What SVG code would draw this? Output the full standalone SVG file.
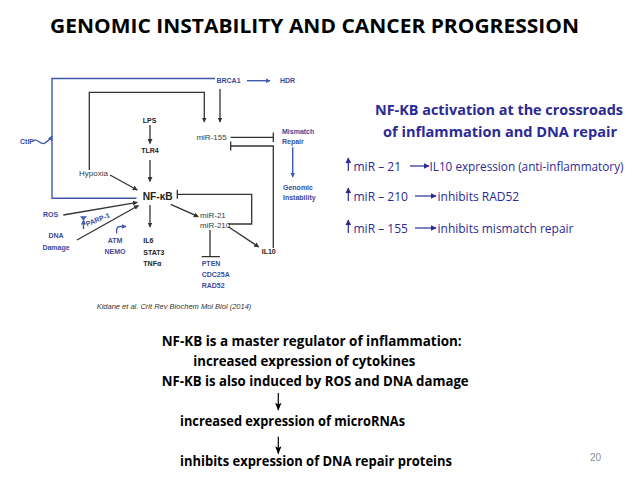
<svg xmlns="http://www.w3.org/2000/svg" width="638" height="479" viewBox="0 0 638 479">
<style>
text{font-family:"Liberation Sans",Arial,sans-serif}
.title{font-family:"Open Sans","Liberation Sans",sans-serif;font-weight:bold;font-size:19px;fill:#000}
.bl{font-weight:bold;font-size:7px;fill:#3a4c9c}
.bk{font-weight:bold;font-size:7px;fill:#222}
.gr{font-size:8px;fill:#3a3a3a}
.rt{font-family:"Open Sans","Liberation Sans",sans-serif;font-weight:bold;font-size:15px;fill:#2a2a96}
.rl{font-family:"Open Sans","Liberation Sans",sans-serif;font-size:12px;fill:#2a2a96}
.bt{font-family:"Open Sans","Liberation Sans",sans-serif;font-weight:bold;font-size:13.5px;fill:#000}
.ln{fill:none;stroke:#333;stroke-width:1.3}
.lb{fill:none;stroke:#3f5aac;stroke-width:1.4}
.ra{fill:none;stroke:#2a2a96;stroke-width:1.2}
</style>
<defs>
<marker id="ah" viewBox="0 0 10 10" refX="9" refY="5" markerWidth="5" markerHeight="5" orient="auto" markerUnits="userSpaceOnUse"><path d="M0,0 L10,5 L0,10 z" fill="#333"/></marker>
<marker id="ahb" viewBox="0 0 10 10" refX="9" refY="5" markerWidth="5" markerHeight="5" orient="auto" markerUnits="userSpaceOnUse"><path d="M0,0 L10,5 L0,10 z" fill="#3f5aac"/></marker>
<marker id="ahr" viewBox="0 0 10 10" refX="9" refY="5" markerWidth="6" markerHeight="6" orient="auto" markerUnits="userSpaceOnUse"><path d="M0,0 L10,5 L0,10 z" fill="#2a2a96"/></marker>
<marker id="ahk" viewBox="0 0 10 10" refX="9" refY="5" markerWidth="8" markerHeight="8" orient="auto" markerUnits="userSpaceOnUse"><path d="M0,1 L10,5 L0,9 L2,5 z" fill="#000"/></marker>
</defs>
<rect width="638" height="479" fill="#fff"/>
<text class="title" x="50" y="33" textLength="529" lengthAdjust="spacingAndGlyphs">GENOMIC INSTABILITY AND CANCER PROGRESSION</text>

<g id="connectors">
<path class="lb" d="M215,78.5 H52 V198.3 H136.5"/>
<path class="lb" d="M33,141 C38,137 40,146 45,143 C48,141 50,140 52,136" marker-end="url(#ahb)"/>
<path class="lb" d="M247,80.7 H270" marker-end="url(#ahb)"/>
<path class="ln" d="M89.3,170 V92.3 H204.3 V122" marker-end="url(#ah)"/>
<path class="ln" d="M220,89 V122" marker-end="url(#ah)"/>
<path class="ln" d="M230.7,137.3 H273.3 M273.3,132.5 V142"/>
<path class="lb" d="M292.7,147.3 V177" marker-end="url(#ahb)"/>
<path class="ln" d="M273.3,248 V146 H230.7 M230.7,141.5 V150.5"/>
<path class="ln" d="M150,125 V143.5" marker-end="url(#ah)"/>
<path class="ln" d="M150,160 V181.5" marker-end="url(#ah)"/>
<path class="ln" d="M110,175 L137.3,190" marker-end="url(#ah)"/>
<path class="ln" d="M63.3,215 L137.3,202.3" marker-end="url(#ah)"/>
<path class="ln" d="M77,240 L138.5,205.5" marker-end="url(#ah)"/>
<path class="lb" d="M83.5,229 V220" marker-end="url(#ahb)" stroke-width="1"/>
<path class="lb" d="M83.5,219.5 l-2,-2.5 h4 z" fill="#3f5aac" stroke-width="0.5"/>
<path class="lb" d="M116.7,233.3 C116,229 117,226.5 120,226.5 H126" marker-end="url(#ahb)" stroke-width="1"/>
<path class="ln" d="M150,205 V227" marker-end="url(#ah)"/>
<path class="ln" d="M228.5,224 H251.7 V194.3 H177.3 M177.3,189.8 V198.8"/>
<path class="ln" d="M170.7,204.3 L198.3,216.7" marker-end="url(#ah)"/>
<path class="ln" d="M228.3,226.7 L258.8,247" stroke-width="2" marker-end="url(#ah)"/>
<path class="ln" d="M210,230 V256.7 M201.7,256.7 H220" stroke-width="1.8"/>
</g>

<g id="node-brca1"><text class="bl" x="228.5" y="83" text-anchor="middle">BRCA1</text></g>
<g id="node-hdr"><text class="bl" x="280" y="83">HDR</text></g>
<g id="node-ctip"><text class="bl" x="20" y="143.5">CtIP</text></g>
<g id="node-mir155"><text class="gr" x="211.5" y="140" text-anchor="middle">miR-155</text></g>
<g id="node-mismatch"><text class="bl" x="282" y="133.5" font-size="8">Mismatch</text><text class="bl" x="282" y="144" font-size="8">Repair</text></g>
<g id="node-genomic"><text class="bl" x="283" y="189.5" font-size="8">Genomic</text><text class="bl" x="283" y="200" font-size="8">Instability</text></g>
<g id="node-lps"><text class="bk" x="149.5" y="122.5" text-anchor="middle">LPS</text></g>
<g id="node-tlr4"><text class="bk" x="150" y="153" text-anchor="middle">TLR4</text></g>
<g id="node-hypoxia"><text class="gr" x="79" y="176">Hypoxia</text></g>
<g id="node-nfkb"><text x="142.7" y="200" font-size="11" font-weight="bold" fill="#222" textLength="30" lengthAdjust="spacingAndGlyphs">NF-κB</text></g>
<g id="node-ros"><text class="bl" x="43" y="217">ROS</text></g>
<g id="node-dna"><text class="bl" x="56" y="238" text-anchor="middle">DNA</text><text class="bl" x="56" y="249.5" text-anchor="middle">Damage</text></g>
<g id="node-parp"><text class="bl" x="98" y="222" text-anchor="middle" transform="rotate(-22 98 220)" font-size="6.5">PARP-1</text></g>
<g id="node-atm"><text class="bl" x="115" y="242.5" text-anchor="middle">ATM</text><text class="bl" x="115" y="254" text-anchor="middle">NEMO</text></g>
<g id="node-il6"><text class="bk" x="143.3" y="243">IL6</text><text class="bk" x="143.3" y="254.5">STAT3</text><text class="bk" x="143.3" y="265.5">TNFα</text></g>
<g id="node-mir21"><text class="gr" x="200" y="218">miR-21</text><text class="gr" x="200" y="227.5">miR-210</text></g>
<g id="node-il10"><text class="bk" x="261.7" y="253.5">IL10</text></g>
<g id="node-pten"><text class="bl" x="201.7" y="266">PTEN</text><text class="bl" x="201.7" y="277">CDC25A</text><text class="bl" x="201.7" y="288">RAD52</text></g>
<text x="174" y="309" font-size="7.5" font-style="italic" fill="#333" text-anchor="middle">Kidane et al. Crit Rev Biochem Mol Biol (2014)</text>

<g id="right-panel">
<text class="rt" x="375" y="115" textLength="248" lengthAdjust="spacingAndGlyphs">NF-KB activation at the crossroads</text>
<text class="rt" x="383" y="137" textLength="234" lengthAdjust="spacingAndGlyphs">of inflammation and DNA repair</text>
<path class="ra" d="M348.3,171 V158" marker-end="url(#ahr)"/>
<text class="rl" x="353.5" y="171">miR – 21</text>
<path class="ra" d="M410,166 H429" marker-end="url(#ahr)"/>
<text class="rl" x="429.5" y="171" textLength="194" lengthAdjust="spacingAndGlyphs">IL10 expression (anti-inflammatory)</text>
<path class="ra" d="M348.3,201 V188" marker-end="url(#ahr)"/>
<text class="rl" x="353.5" y="201">miR – 210</text>
<path class="ra" d="M415,196 H436" marker-end="url(#ahr)"/>
<text class="rl" x="437.5" y="201">inhibits RAD52</text>
<path class="ra" d="M348.3,233 V220" marker-end="url(#ahr)"/>
<text class="rl" x="353.5" y="233">miR – 155</text>
<path class="ra" d="M415,228 H436" marker-end="url(#ahr)"/>
<text class="rl" x="437.5" y="233">inhibits mismatch repair</text>
</g>

<g id="bottom-text">
<text class="bt" x="161.7" y="346" textLength="300" lengthAdjust="spacingAndGlyphs">NF-KB is a master regulator of inflammation:</text>
<text class="bt" x="193.3" y="366" textLength="222" lengthAdjust="spacingAndGlyphs">increased expression of cytokines</text>
<text class="bt" x="161.7" y="385.5" textLength="307" lengthAdjust="spacingAndGlyphs">NF-KB is also induced by ROS and DNA damage</text>
<path d="M278.3,393 V410" stroke="#000" stroke-width="1.2" marker-end="url(#ahk)"/>
<text class="bt" x="180" y="426" textLength="225" lengthAdjust="spacingAndGlyphs">increased expression of microRNAs</text>
<path d="M278.3,436.7 V453.5" stroke="#000" stroke-width="1.2" marker-end="url(#ahk)"/>
<text class="bt" x="180" y="465.5" textLength="272" lengthAdjust="spacingAndGlyphs">inhibits expression of DNA repair proteins</text>
</g>
<text x="590" y="461" font-size="10" fill="#8a8a8a" font-family="Liberation Sans,sans-serif">20</text>
</svg>
